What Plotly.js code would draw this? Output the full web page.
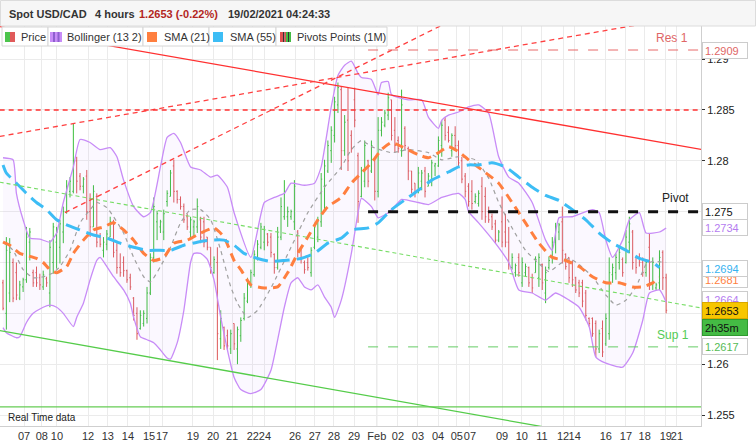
<!DOCTYPE html>
<html><head><meta charset="utf-8">
<script src="https://cdn.plot.ly/plotly-3.0.1.min.js"></script>
<style>html,body{margin:0;padding:0;background:#fff;}#chart{width:756px;height:445px;}</style>
</head><body><div id="chart"></div>
<script>
// ---------------- DATA ----------------
const barOpen = [
1.2680,1.2650,1.2670,1.2700,1.2690,1.2665,1.2676,1.2683,1.2720,1.2690,
1.2690,1.2685,1.2676,1.2684,1.2670,1.2700,1.2720,1.2715,1.2730,1.2750,
1.2770,1.2770,1.2800,1.2785,1.2775,1.2785,1.2750,1.2735,1.2765,1.2725,
1.2712,1.2718,1.2725,1.2740,1.2712,1.2695,1.2700,1.2692,1.2685,1.2665,
1.2650,1.2635,1.2640,1.2645,1.2670,1.2705,1.2740,1.2735,1.2730,1.2760,
1.2765,1.2795,1.2770,1.2762,1.2755,1.2745,1.2730,1.2735,1.2735,1.2742,
1.2740,1.2725,1.2715,1.2690,1.2700,1.2625,1.2636,1.2628,1.2615,1.2640,
1.2615,1.2628,1.2645,1.2662,1.2678,1.2688,1.2705,1.2715,1.2720,1.2728,
1.2725,1.2708,1.2695,1.2725,1.2745,1.2745,1.2745,1.2740,1.2730,1.2715,
1.2700,1.2700,1.2690,1.2715,1.2725,1.2740,1.2775,1.2790,1.2810,1.2825,
1.2855,1.2870,1.2810,1.2840,1.2825,1.2860,1.2805,1.2765,1.2780,1.2800,
1.2790,1.2800,1.2770,1.2830,1.2835,1.2845,1.2860,1.2830,1.2820,1.2810,
1.2832,1.2812,1.2790,1.2778,1.2770,1.2780,1.2790,1.2775,1.2780,1.2795,
1.2795,1.2815,1.2840,1.2828,1.2810,1.2825,1.2815,1.2800,1.2785,1.2775,
1.2770,1.2760,1.2758,1.2775,1.2765,1.2750,1.2745,1.2738,1.2722,1.2740,
1.2730,1.2720,1.2695,1.2690,1.2705,1.2680,1.2690,1.2695,1.2685,1.2690,
1.2685,1.2698,1.2670,1.2695,1.2705,1.2720,1.2730,1.2740,1.2708,1.2705,
1.2700,1.2685,1.2680,1.2680,1.2670,1.2645,1.2645,1.2640,1.2615,1.2635,
1.2620,1.2630,1.2688,1.2690,1.2700,1.2703,1.2700,1.2720,1.2730,1.2705,
1.2705,1.2700,1.2690,1.2715,1.2680,1.2675,1.2680,1.2710,1.2685];
const barHigh = [
1.2683,1.2725,1.2724,1.2704,1.2700,1.2682,1.2685,1.2735,1.2734,1.2693,
1.2696,1.2689,1.2692,1.2686,1.2722,1.2739,1.2735,1.2742,1.2755,1.2781,
1.2784,1.2837,1.2804,1.2788,1.2784,1.2791,1.2768,1.2776,1.2768,1.2729,
1.2725,1.2732,1.2745,1.2742,1.2719,1.2709,1.2706,1.2693,1.2689,1.2666,
1.2656,1.2653,1.2653,1.2676,1.2709,1.2764,1.2751,1.2742,1.2752,1.2771,
1.2791,1.2801,1.2771,1.2765,1.2758,1.2748,1.2745,1.2742,1.2763,1.2745,
1.2745,1.2725,1.2715,1.2706,1.2715,1.2653,1.2637,1.2634,1.2634,1.2640,
1.2637,1.2646,1.2670,1.2685,1.2693,1.2712,1.2722,1.2739,1.2736,1.2729,
1.2729,1.2709,1.2735,1.2764,1.2781,1.2755,1.2752,1.2781,1.2732,1.2715,
1.2702,1.2705,1.2715,1.2739,1.2745,1.2788,1.2801,1.2820,1.2834,1.2863,
1.2877,1.2873,1.2845,1.2872,1.2830,1.2872,1.2808,1.2794,1.2820,1.2801,
1.2820,1.2804,1.2843,1.2843,1.2850,1.2867,1.2860,1.2843,1.2824,1.2870,
1.2834,1.2814,1.2790,1.2778,1.2794,1.2791,1.2794,1.2788,1.2801,1.2798,
1.2824,1.2840,1.2843,1.2834,1.2827,1.2834,1.2820,1.2804,1.2788,1.2778,
1.2781,1.2768,1.2771,1.2784,1.2774,1.2755,1.2748,1.2742,1.2732,1.2765,
1.2748,1.2735,1.2709,1.2699,1.2709,1.2705,1.2699,1.2696,1.2689,1.2706,
1.2709,1.2699,1.2696,1.2706,1.2725,1.2739,1.2739,1.2755,1.2709,1.2705,
1.2702,1.2686,1.2683,1.2683,1.2673,1.2646,1.2646,1.2643,1.2634,1.2643,
1.2650,1.2705,1.2699,1.2709,1.2715,1.2705,1.2732,1.2745,1.2732,1.2705,
1.2709,1.2705,1.2702,1.2729,1.2705,1.2680,1.2712,1.2712,1.2689];
const barLow = [
1.2653,1.2634,1.2661,1.2661,1.2663,1.2663,1.2671,1.2680,1.2702,1.2676,
1.2676,1.2673,1.2673,1.2676,1.2656,1.2689,1.2694,1.2699,1.2719,1.2748,
1.2764,1.2768,1.2768,1.2771,1.2768,1.2742,1.2725,1.2735,1.2715,1.2715,
1.2705,1.2712,1.2725,1.2705,1.2689,1.2686,1.2686,1.2680,1.2673,1.2643,
1.2624,1.2634,1.2637,1.2640,1.2668,1.2700,1.2722,1.2729,1.2722,1.2755,
1.2765,1.2759,1.2758,1.2752,1.2739,1.2732,1.2722,1.2725,1.2729,1.2719,
1.2715,1.2712,1.2689,1.2689,1.2604,1.2615,1.2614,1.2614,1.2610,1.2614,
1.2600,1.2622,1.2643,1.2660,1.2675,1.2686,1.2702,1.2713,1.2712,1.2716,
1.2705,1.2689,1.2693,1.2722,1.2742,1.2735,1.2742,1.2732,1.2705,1.2699,
1.2689,1.2692,1.2686,1.2713,1.2720,1.2735,1.2752,1.2788,1.2798,1.2818,
1.2847,1.2791,1.2805,1.2790,1.2808,1.2833,1.2739,1.2764,1.2774,1.2774,
1.2788,1.2761,1.2764,1.2824,1.2833,1.2840,1.2820,1.2808,1.2808,1.2804,
1.2811,1.2781,1.2768,1.2764,1.2768,1.2771,1.2764,1.2775,1.2775,1.2785,
1.2794,1.2804,1.2820,1.2818,1.2804,1.2811,1.2794,1.2778,1.2764,1.2755,
1.2752,1.2758,1.2755,1.2742,1.2739,1.2739,1.2732,1.2719,1.2720,1.2715,
1.2715,1.2693,1.2693,1.2686,1.2686,1.2676,1.2686,1.2676,1.2670,1.2690,
1.2676,1.2673,1.2660,1.2693,1.2699,1.2709,1.2722,1.2699,1.2693,1.2680,
1.2676,1.2670,1.2666,1.2656,1.2643,1.2637,1.2627,1.2607,1.2611,1.2607,
1.2618,1.2624,1.2680,1.2683,1.2693,1.2686,1.2699,1.2709,1.2693,1.2689,
1.2696,1.2686,1.2686,1.2673,1.2673,1.2673,1.2673,1.2673,1.2650];
const barClose = [
1.2655,1.2712,1.2710,1.2665,1.2668,1.2678,1.2683,1.2725,1.2730,1.2680,
1.2680,1.2678,1.2688,1.2680,1.2715,1.2735,1.2730,1.2738,1.2750,1.2775,
1.2780,1.2800,1.2780,1.2775,1.2782,1.2750,1.2735,1.2770,1.2720,1.2718,
1.2720,1.2728,1.2740,1.2710,1.2695,1.2690,1.2692,1.2683,1.2676,1.2648,
1.2630,1.2648,1.2650,1.2670,1.2705,1.2755,1.2748,1.2740,1.2748,1.2768,
1.2788,1.2770,1.2762,1.2755,1.2742,1.2735,1.2742,1.2740,1.2755,1.2725,
1.2720,1.2715,1.2695,1.2703,1.2630,1.2645,1.2618,1.2618,1.2630,1.2620,
1.2634,1.2643,1.2665,1.2680,1.2690,1.2708,1.2718,1.2735,1.2732,1.2720,
1.2710,1.2695,1.2725,1.2755,1.2770,1.2750,1.2750,1.2775,1.2712,1.2705,
1.2693,1.2695,1.2712,1.2735,1.2742,1.2782,1.2795,1.2815,1.2830,1.2858,
1.2872,1.2810,1.2838,1.2800,1.2812,1.2840,1.2760,1.2790,1.2815,1.2780,
1.2815,1.2770,1.2830,1.2838,1.2847,1.2862,1.2825,1.2815,1.2812,1.2855,
1.2815,1.2790,1.2772,1.2768,1.2788,1.2788,1.2770,1.2785,1.2798,1.2797,
1.2820,1.2835,1.2825,1.2820,1.2825,1.2815,1.2798,1.2782,1.2770,1.2760,
1.2758,1.2765,1.2768,1.2750,1.2745,1.2742,1.2735,1.2722,1.2730,1.2720,
1.2720,1.2698,1.2705,1.2697,1.2690,1.2700,1.2696,1.2680,1.2675,1.2703,
1.2705,1.2680,1.2690,1.2702,1.2720,1.2735,1.2737,1.2712,1.2696,1.2685,
1.2683,1.2673,1.2670,1.2662,1.2648,1.2640,1.2630,1.2615,1.2630,1.2612,
1.2645,1.2690,1.2695,1.2705,1.2710,1.2690,1.2725,1.2738,1.2700,1.2695,
1.2700,1.2690,1.2700,1.2680,1.2700,1.2678,1.2705,1.2685,1.2653];

// day labels (positions in bar units)
const dayTickPos = [-0.6,6.3,11.6,16.1,25.4,31.3,37.3,43.6,47.5,56.7,62.7,68.4,74.6,78.2,87.2,93.1,98.8,104.8,
  111.6,117.9,123.9,129.9,135.5,139.4,149.0,154.9,160.9,167.2,170.7,180.0,186.0,191.6,197.9,201.2];
const dayTickText = ['06','07','08','10','12','13','14','15','17','19','20','21','22','24','26','27','28','29',
  'Feb','02','03','04','05','07','09','10','11','12','14','16','17','18','19','21'];
const monthStart = 111.6;

// price scale
const priceTicks = [1.255,1.26,1.265,1.27,1.275,1.28,1.285,1.29];
const priceTickText = ['1.255','1.26','','','','1.28','1.285','1.29'];

// Bollinger (13, 2)
const bbUpperX = [0,3,4,6,8,11,14,16,18,21,23,26,29,32,34,36,39,42,44,47,49,51,53,56,59,62,64,67,69,74,78,81,84,86,90,93,95,98,100,102,104,106,107,110,112,113,115,116,121,125,127,130,131,133,136,139,142,145,148,151,154,158,162,164,166,170,176,178,180,182,185,187,190,192,196,198];
const bbUpperY = [1.2803,1.2801,1.2768,1.2742,1.2724,1.2723,1.2720,1.2729,1.2759,1.2794,1.2821,1.2818,1.2811,1.2813,1.2804,1.2781,1.2755,1.2745,1.2749,1.2794,1.2823,1.2827,1.2818,1.2794,1.2791,1.2784,1.2786,1.2774,1.2749,1.2705,1.2759,1.2764,1.2768,1.2778,1.2776,1.2778,1.2794,1.2853,1.2884,1.2894,1.2898,1.2886,1.2882,1.2880,1.2865,1.2877,1.2878,1.2865,1.2860,1.2860,1.2843,1.2832,1.2840,1.2845,1.2848,1.2853,1.2855,1.2847,1.2804,1.2784,1.2778,1.2759,1.2722,1.2712,1.2744,1.2745,1.2752,1.2749,1.2722,1.2705,1.2722,1.2742,1.2749,1.2729,1.2730,1.2734];
const bbLowerX = [0,1,4,5,7,9,12,14,16,18,21,22,24,26,28,29,31,33,36,38,39,41,43,45,47,49,50,52,54,56,57,59,61,63,65,67,69,71,74,77,80,82,84,86,88,90,92,94,96,98,99,101,104,106,107,110,112,115,118,119,124,127,131,136,138,139,142,147,151,154,158,162,165,169,172,175,177,180,185,188,191,193,196,198];
const bbLowerY = [1.2636,1.2631,1.2626,1.2627,1.2641,1.2650,1.2656,1.2658,1.2656,1.2650,1.2637,1.2646,1.2660,1.2683,1.2702,1.2705,1.2696,1.2686,1.2673,1.2660,1.2646,1.2627,1.2624,1.2621,1.2614,1.2606,1.2605,1.2621,1.2653,1.2700,1.2709,1.2709,1.2703,1.2683,1.2646,1.2614,1.2587,1.2575,1.2571,1.2575,1.2594,1.2624,1.2656,1.2680,1.2685,1.2676,1.2673,1.2678,1.2666,1.2656,1.2646,1.2663,1.2709,1.2749,1.2763,1.2755,1.2744,1.2749,1.2759,1.2762,1.2759,1.2757,1.2764,1.2768,1.2762,1.2750,1.2739,1.2719,1.2700,1.2673,1.2670,1.2663,1.2670,1.2663,1.2656,1.2637,1.2607,1.2601,1.2597,1.2611,1.2643,1.2670,1.2673,1.2661];
const bbMidX = [0,3,6,9,12,15,17,20,23,26,28,31,33,36,39,42,44,47,50,53,56,59,62,65,68,70,73,76,80,86,91,96,101,104,107,110,116,121,127,131,136,141,145,148,152,156,160,163,166,169,172,176,180,183,186,189,192,194,198];
const bbMidY = [1.2720,1.2712,1.2693,1.2685,1.2686,1.2690,1.2696,1.2712,1.2739,1.2752,1.2759,1.2754,1.2745,1.2729,1.2705,1.2686,1.2681,1.2696,1.2715,1.2739,1.2752,1.2752,1.2742,1.2712,1.2676,1.2660,1.2646,1.2653,1.2675,1.2715,1.2749,1.2774,1.2794,1.2811,1.2820,1.2814,1.2808,1.2811,1.2808,1.2801,1.2804,1.2801,1.2783,1.2759,1.2734,1.2712,1.2699,1.2691,1.2698,1.2704,1.2698,1.2686,1.2668,1.2658,1.2663,1.2676,1.2698,1.2701,1.2700];

// SMA 21 / SMA 55
const sma21X = [0,2,5,7,10,12,14,16,19,21,24,27,30,33,36,39,42,45,48,51,55,59,63,66,69,71,74,78,82,85,88,91,94,97,101,104,107,110,113,116,119,124,127,130,133,136,139,143,148,152,156,160,164,168,172,176,180,184,188,191,194,196];
const sma21Y = [1.2720,1.2717,1.2709,1.2707,1.2704,1.2700,1.2693,1.2690,1.2696,1.2709,1.2722,1.2732,1.2735,1.2739,1.2732,1.2722,1.2709,1.2702,1.2705,1.2719,1.2722,1.2729,1.2734,1.2725,1.2702,1.2693,1.2678,1.2675,1.2676,1.2690,1.2709,1.2725,1.2742,1.2755,1.2764,1.2778,1.2788,1.2798,1.2811,1.2818,1.2814,1.2806,1.2803,1.2808,1.2814,1.2809,1.2801,1.2791,1.2778,1.2759,1.2739,1.2719,1.2705,1.2702,1.2696,1.2686,1.2680,1.2680,1.2676,1.2676,1.2680,1.2685];
const sma55X = [0,1,4,7,10,13,16,19,23,27,31,35,39,43,46,50,54,58,62,66,69,72,76,80,84,89,93,97,101,104,109,112,116,121,124,128,133,136,139,142,146,150,154,158,162,166,170,174,178,182,186,190,194,196];
const sma55Y = [1.2796,1.2788,1.2778,1.2768,1.2759,1.2752,1.2742,1.2737,1.2732,1.2727,1.2724,1.2719,1.2715,1.2712,1.2712,1.2712,1.2717,1.2720,1.2722,1.2722,1.2717,1.2709,1.2704,1.2701,1.2702,1.2704,1.2709,1.2719,1.2724,1.2732,1.2734,1.2739,1.2752,1.2764,1.2771,1.2781,1.2789,1.2794,1.2796,1.2796,1.2798,1.2794,1.2784,1.2774,1.2766,1.2761,1.2752,1.2742,1.2729,1.2719,1.2712,1.2704,1.2700,1.2695];

// trend lines (anchor points: bar index, price)
const redTrendX = [-1, 209];      const redTrendY = [1.2932, 1.2811];
const redDashAX = [-1, 190];      const redDashAY = [1.2824, 1.2934];
const redDashBX = [18.5, 132];    const redDashBY = [1.2749, 1.2935];
const greenDashX = [-1, 209];     const greenDashY = [1.2779, 1.2655];
const greenTrendX = [-1, 162];    const greenTrendY = [1.2633, 1.2538];
const fullSpanX = [-1, 209];
const level1285 = 1.2850;
const levelGreenFlat = 1.2558;

// monthly pivots
const pivotSpanX = [109, 209];
const pivotRes1 = 1.2909;
const pivotP = 1.2750;
const pivotSup1 = 1.2617;

// last values shown on the price scale
const lastPrice = 1.2653;
const lastBBUpper = 1.2734;
const lastSMA55 = 1.2694;
const lastSMA21 = 1.2681;
const lastBBLower = 1.2664;
const timeLeft = '2h35m';
const header = {pair:'Spot USD/CAD', period:'4 hours', change:'1.2653 (-0.22%)', stamp:'19/02/2021 04:24:33'};

// ---------------- LAYOUT HELPERS ----------------
const LW = 701, PB = 426, PH = 400;
const px = v => v / LW;
const py = v => (PB - v) / PH;
const FONT = 'Liberation Sans, Arial, sans-serif';

const idx = barOpen.map((_, i) => i);

function line(x, y, color, width, dash, smooth, extra) {
  const ln = {color:color, width:width, dash:dash || 'solid'};
  if (smooth) { ln.shape = 'spline'; ln.smoothing = 0.5; }
  return Object.assign({type:'scatter', mode:'lines', x:x, y:y, hoverinfo:'skip', showlegend:false, line:ln}, extra || {});
}

const traces = [
  line(bbUpperX, bbUpperY, '#c88cf7', 1.3, 'solid', true),
  line(bbLowerX, bbLowerY, '#c88cf7', 1.3, 'solid', true, {fill:'tonexty', fillcolor:'rgba(185,130,255,0.06)'}),
  {type:'ohlc', x:idx, open:barOpen, high:barHigh, low:barLow, close:barClose, tickwidth:0.3,
   increasing:{line:{color:'#3cbf3c', width:1}}, decreasing:{line:{color:'#dd5858', width:1}},
   hoverinfo:'skip', showlegend:false},
  line(bbMidX, bbMidY, '#a0a0a0', 1.2, '4px,4px', true),
  line(sma21X, sma21Y, '#ff7f3f', 3, '9px,6px', true),
  line(sma55X, sma55Y, '#3dbdf5', 3, '15px,7px', true),
  line(redTrendX, redTrendY, '#ff3030', 1.3),
  line(redDashAX, redDashAY, '#ff4040', 1.3, '5px,4px'),
  line(redDashBX, redDashBY, '#ff4040', 1.3, '5px,4px'),
  line(fullSpanX, [level1285, level1285], '#ff3030', 1.3, '5px,4px'),
  line(greenDashX, greenDashY, '#77dd66', 1.1, '4px,3px'),
  line(greenTrendX, greenTrendY, '#55cc4a', 1.3),
  line(fullSpanX, [levelGreenFlat, levelGreenFlat], '#66cc55', 1.3),
  line(pivotSpanX, [pivotRes1, pivotRes1], '#e86a6a', 1, '10px,10px'),
  line(pivotSpanX, [pivotP, pivotP], '#111111', 3, '10px,10px'),
  line(pivotSpanX, [pivotSup1, pivotSup1], '#66cc66', 1, '10px,10px')
];

// ---------------- DECORATION ----------------
const shapes = [];
const annotations = [];
// month boundary grid line
shapes.push({type:'line', xref:'x', yref:'paper', x0:monthStart, x1:monthStart, y0:0, y1:1, line:{color:'#d9d9d9', width:1}, layer:'below'});
function rectPx(x0, y0, x1, y1, fill, lc) {
  shapes.push({type:'rect', xref:'paper', yref:'paper', x0:px(x0), x1:px(x1), y0:py(y1), y1:py(y0),
    fillcolor:fill, line:{color:lc || fill, width: lc ? 1 : 0}, layer:'above'});
}
function textPx(x, y, txt, size, color, bold, anchor) {
  annotations.push({xref:'paper', yref:'paper', x:px(x), y:py(y), xanchor:anchor || 'left', yanchor:'middle',
    text: bold ? '<b>' + txt + '</b>' : txt, showarrow:false, font:{family:FONT, size:size, color:color}});
}
// header bar
rectPx(0.5, 0.5, 755.5, 26, '#f6f6f6', '#dcdcdc');
textPx(7, 14.5, header.pair, 11, '#333', true);
textPx(93, 14.5, header.period, 11, '#333', true);
textPx(137, 14.5, header.change, 11, '#b3261e', true);
textPx(226, 14.5, header.stamp, 11, '#333', true);
// legend row
const legendBoxes = [[2,48,'Price',19],[48,143,'Bollinger (13 2)',65],[143,209,'SMA (21)',162],[209,276,'SMA (55)',228],[276,387,'Pivots Points (1M)',295]];
legendBoxes.forEach(b => { rectPx(b[0], 27, b[1], 46, '#ffffff', '#d6d6d6'); textPx(b[3], 36.5, b[2], 11, '#333', false); });
rectPx(5, 32, 10, 42, '#4cc44c'); rectPx(10, 32, 15, 42, '#e05a5a');
rectPx(50, 32, 62, 42, '#c88cf7'); rectPx(53, 32, 55, 42, '#8e5fcf'); rectPx(57.5, 32, 59.5, 42, '#8e5fcf');
rectPx(147, 32, 157, 42, '#ff7f3f');
rectPx(213, 32, 223, 42, '#3dbdf5');
rectPx(280, 32, 283, 42, '#e05050'); rectPx(283, 32, 284.5, 42, '#333'); rectPx(284.5, 32, 286, 42, '#e05050');
rectPx(286, 32, 288, 42, '#44bb44'); rectPx(288, 32, 289, 42, '#333'); rectPx(289, 32, 291, 42, '#44bb44');
// level names
textPx(690, 38, 'Res 1', 12, '#e06666', false, 'right');
textPx(691, 198, 'Pivot', 12, '#222', false, 'right');
textPx(691, 335, 'Sup 1', 12, '#55cc55', false, 'right');
textPx(6, 417, 'Real Time data', 10, '#222', false);
// price-scale boxes
function valueBox(v, txt, color, bg, border, shift) {
  annotations.push({xref:'paper', yref:'y', x:px(702), y:v, xanchor:'left', yanchor:'middle', yshift:shift || 0,
    text:txt, showarrow:false, align:'left', width:40, height:11, borderpad:2, borderwidth:1,
    bgcolor:bg, bordercolor:border, font:{family:FONT, size:11, color:color}});
}
valueBox(pivotRes1, pivotRes1.toFixed(4), '#e06666', '#fff', '#cccccc');
valueBox(pivotP, '1.275', '#111', '#fff', '#cccccc');
valueBox(lastBBUpper, lastBBUpper.toFixed(4), '#b57cf0', '#fff', '#cccccc');
valueBox(lastSMA21, lastSMA21.toFixed(4), '#ff7f3f', '#fff', '#cccccc', 2);
valueBox(lastSMA55, lastSMA55.toFixed(4), '#36b2f0', '#fff', '#cccccc');
valueBox(lastBBLower, lastBBLower.toFixed(4), '#b57cf0', '#fff', '#cccccc');
valueBox(lastPrice, lastPrice.toFixed(4), '#111', '#f7c600', '#d9a800');
valueBox(lastPrice, timeLeft, '#111', '#44bb44', '#2f9a2f', -17);
valueBox(pivotSup1, pivotSup1.toFixed(4), '#55bb55', '#fff', '#cccccc');

const layout = {
  width:756, height:445, margin:{l:0, r:55, t:26, b:19, pad:0},
  paper_bgcolor:'#ffffff', plot_bgcolor:'#ffffff', showlegend:false,
  font:{family:FONT, size:11, color:'#333'},
  xaxis:{type:'linear', range:[-0.9, 208.4], tickmode:'array', tickvals:dayTickPos, ticktext:dayTickText,
    tickangle:0, ticks:'', showgrid:true, gridcolor:'#ebebeb', gridwidth:1, zeroline:false,
    showline:true, linecolor:'#cfcfcf', mirror:true, rangeslider:{visible:false},
    tickfont:{family:FONT, size:11, color:'#333'}, fixedrange:true},
  yaxis:{side:'right', range:[1.25392, 1.29326], tickmode:'array', tickvals:priceTicks, ticktext:priceTickText,
    ticks:'outside', ticklen:3, tickcolor:'#333', showgrid:true, gridcolor:'#ebebeb', zeroline:false,
    showline:true, linecolor:'#cfcfcf', mirror:true, tickfont:{family:FONT, size:11, color:'#222'}, fixedrange:true},
  shapes:shapes, annotations:annotations
};
Plotly.newPlot('chart', traces, layout, {staticPlot:true, displayModeBar:false});
</script>
</body></html>
